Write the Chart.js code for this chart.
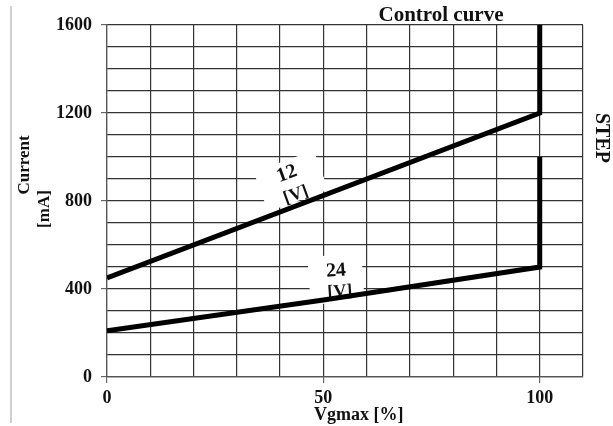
<!DOCTYPE html>
<html>
<head>
<meta charset="utf-8">
<script src="https://cdn.jsdelivr.net/npm/chart.js@4/dist/chart.umd.min.js"></script>
<style>
  html, body { margin: 0; padding: 0; background: #fff; }
  #wrap { position: relative; width: 613px; height: 426px; }
</style>
</head>
<body>
<div id="wrap"><canvas id="myChart" width="613" height="426"></canvas></div>
<script>
// control curves, current vs. Vgmax
const vgmax12 = [0, 100, 100];
const current12 = [450, 1200, 1600];
const vgmax24 = [0, 50, 100, 100];
const current24 = [210, 350, 500, 1000];

const xLabels = [0, 50, 100];
const yLabels = [0, 400, 800, 1200, 1600];

const serif = '"Liberation Serif", "Times New Roman", serif';

function toPoints(xs, ys) {
  return xs.map((x, i) => ({ x: x, y: ys[i] }));
}

function rotatedText(ctx, text, x, y, deg) {
  ctx.save();
  ctx.translate(x, y);
  ctx.rotate((deg * Math.PI) / 180);
  ctx.fillText(text, 0, 0);
  ctx.restore();
}

// white boxes with the voltage labels, sitting under the curves
const curveLabels = {
  id: "curveLabels",
  beforeDatasetsDraw(chart) {
    const ctx = chart.ctx;
    const boxes = [
      { cx: 291, cy: 181, w: 64, h: 42, a: -20, t1: [287, 174], t2: [296, 195], top: "12" },
      { cx: 336, cy: 279, w: 54, h: 48, a: -4, t1: [336, 271], t2: [340, 292], top: "24" },
    ];
    ctx.save();
    boxes.forEach((b) => {
      ctx.save();
      ctx.translate(b.cx, b.cy);
      ctx.rotate((b.a * Math.PI) / 180);
      ctx.fillStyle = "#fff";
      ctx.fillRect(-b.w / 2, -b.h / 2, b.w, b.h);
      ctx.restore();

      ctx.fillStyle = "#111";
      ctx.textAlign = "center";
      ctx.textBaseline = "middle";
      ctx.font = "bold 20px " + serif;
      rotatedText(ctx, b.top, b.t1[0], b.t1[1], b.a);
      ctx.font = "bold 18px " + serif;
      rotatedText(ctx, "[V]", b.t2[0], b.t2[1], b.a);
    });
    ctx.restore();
  },
};

// titles and side texts
const texts = {
  id: "texts",
  afterDraw(chart) {
    const ctx = chart.ctx;
    ctx.save();
    // light frame on the left
    ctx.strokeStyle = "#d0d0d0";
    ctx.lineWidth = 2;
    ctx.beginPath();
    ctx.moveTo(11, 6);
    ctx.lineTo(11, 423);
    ctx.stroke();

    ctx.fillStyle = "#111";
    ctx.textBaseline = "middle";

    ctx.font = "bold 21px " + serif;
    ctx.textAlign = "center";
    ctx.fillText("Control curve", 441, 16);

    ctx.font = "bold 18px " + serif;
    ctx.textAlign = "left";
    ctx.fillText("Vgmax [%]", 314, 415);

    ctx.textAlign = "center";
    ctx.font = "bold 20px " + serif;
    rotatedText(ctx, "STEP", 601, 138, 90);

    ctx.font = "bold 17px " + serif;
    rotatedText(ctx, "Current", 25, 165, -90);
    rotatedText(ctx, "[mA]", 45, 209, -90);

    ctx.restore();
  },
};

const data = {
  datasets: [
    {
      label: "12 [V]",
      data: toPoints(vgmax12, current12),
      borderColor: "#000",
      borderWidth: 5,
      pointRadius: 0,
      fill: false,
    },
    {
      label: "24 [V]",
      data: toPoints(vgmax24, current24),
      borderColor: "#000",
      borderWidth: 5,
      pointRadius: 0,
      fill: false,
    },
  ],
};

const tickFont = { family: serif, size: 18, weight: "bold" };

const config = {
  type: "line",
  data,
  options: {
    responsive: false,
    animation: false,
    layout: { padding: { left: 0, top: 25, right: 30, bottom: 0 } },
    scales: {
      x: {
        type: "linear",
        min: 0,
        max: 110,
        ticks: {
          stepSize: 10,
          autoSkip: false,
          color: "#111",
          font: tickFont,
          padding: 5,
          maxRotation: 0,
          callback: (v) => (xLabels.includes(v) ? String(v) : ""),
        },
        grid: {
          color: "#333",
          lineWidth: 1.2,
          tickLength: 6,
          tickColor: (c) => (c.tick && xLabels.includes(c.tick.value) ? "#666" : "rgba(0,0,0,0)"),
        },
        border: { color: "#555", width: 1.2 },
        afterFit: (scale) => { scale.height = 49; },
      },
      y: {
        type: "linear",
        min: 0,
        max: 1600,
        ticks: {
          stepSize: 100,
          autoSkip: false,
          color: "#111",
          font: tickFont,
          padding: 9,
          callback: (v) => (yLabels.includes(v) ? String(v) : ""),
        },
        grid: {
          color: "#333",
          lineWidth: 1.2,
          tickLength: 6,
          tickColor: (c) => (c.tick && yLabels.includes(c.tick.value) ? "#666" : "rgba(0,0,0,0)"),
        },
        border: { color: "#555", width: 1.2 },
        afterFit: (scale) => { scale.width = 107; },
      },
    },
    plugins: {
      legend: { display: false },
      tooltip: { enabled: false },
    },
  },
  plugins: [curveLabels, texts],
};

const myChart = new Chart(document.getElementById("myChart"), config);
</script>
</body>
</html>
